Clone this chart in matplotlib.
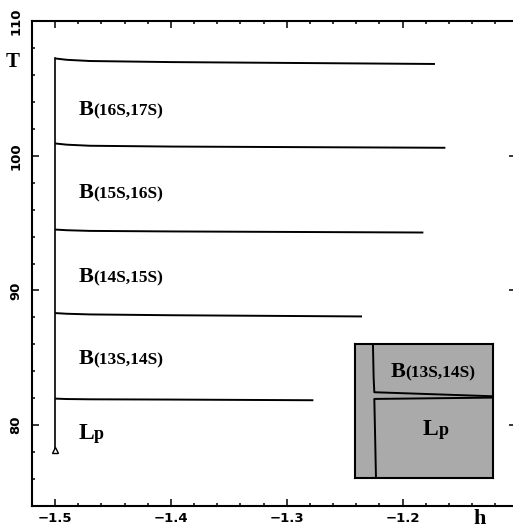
import matplotlib
matplotlib.use("Agg")
import matplotlib.pyplot as plt
from matplotlib.offsetbox import TextArea, HPacker, AnnotationBbox
from matplotlib.ticker import MultipleLocator

# Phase boundaries T(h): each boundary runs from the Lp/B spine at h = -1.5
boundary_h = [
    [-1.5, -1.49, -1.47, -1.40, -1.277],
    [-1.5, -1.49, -1.47, -1.40, -1.235],
    [-1.5, -1.49, -1.47, -1.40, -1.182],
    [-1.5, -1.49, -1.47, -1.40, -1.163],
    [-1.5, -1.49, -1.47, -1.40, -1.172],
]
boundary_T = [
    [81.97, 81.94, 81.92, 81.90, 81.85],
    [88.32, 88.27, 88.22, 88.16, 88.07],
    [94.52, 94.47, 94.42, 94.38, 94.30],
    [100.91, 100.82, 100.74, 100.68, 100.59],
    [107.22, 107.12, 107.03, 106.95, 106.81],
]
spine_h = [-1.5, -1.5]
spine_T = [78.15, 107.22]

# Region labels: (h, T, main letter, suffix)
regions = [
    (-1.48, 103.1, "B", "(16S,17S)"),
    (-1.48, 96.9, "B", "(15S,16S)"),
    (-1.48, 90.7, "B", "(14S,15S)"),
    (-1.48, 84.6, "B", "(13S,14S)"),
    (-1.48, 79.1, "L", "p"),
]

# Inset sketch (axes-fraction coordinates)
inset_upper_x = [0.13, 0.135, 0.14, 1.0]
inset_upper_y = [1.0, 0.75, 0.64, 0.61]
inset_lower_x = [0.152, 0.146, 0.14, 1.0]
inset_lower_y = [0.0, 0.30, 0.59, 0.60]

SERIF = "Liberation Serif"
SANS = "DejaVu Sans"

fig = plt.figure(figsize=(5.13, 5.30), dpi=100)
W, H = 513, 530
ax = fig.add_axes([32 / W, (H - 506) / H, (516 - 32) / W, (506 - 21) / H])

for hs, Ts in zip(boundary_h, boundary_T):
    ax.plot(hs, Ts, color="black", lw=1.4, solid_capstyle="butt",
            solid_joinstyle="round")
ax.plot(spine_h, spine_T, color="black", lw=1.2)
ax.plot(spine_h[:1], spine_T[:1], marker="^", ms=4, mfc="white",
        mec="black", mew=1.0, ls="none")

ax.set_xlim(-1.52, -1.102)
ax.set_ylim(74, 110)
ax.xaxis.set_major_locator(MultipleLocator(0.1))
ax.xaxis.set_minor_locator(MultipleLocator(0.02))
ax.yaxis.set_major_locator(MultipleLocator(10))
ax.yaxis.set_minor_locator(MultipleLocator(2))
ax.tick_params(which="both", direction="in", top=True, right=True, width=1.1)
ax.tick_params(which="major", length=5)
ax.tick_params(which="minor", length=2.5)
ax.tick_params(axis="x", pad=4.5, labelsize=9.5)
ax.tick_params(axis="y", pad=7, labelsize=9.5, labelrotation=90)
for lab in ax.get_xticklabels() + ax.get_yticklabels():
    lab.set_family(SANS)
    lab.set_fontweight("bold")
for lab in ax.get_yticklabels():
    lab.set_verticalalignment("center")
for sp in ax.spines.values():
    sp.set_linewidth(1.5)


def region_label(axis, x, y, main, suffix, coords="data", s_main=16, s_sub=12.5):
    a = TextArea(main, textprops=dict(fontsize=s_main, fontweight="bold", family=SERIF))
    b = TextArea(suffix, textprops=dict(fontsize=s_sub, fontweight="bold", family=SERIF))
    box = HPacker(children=[a, b], align="baseline", pad=0, sep=0)
    ab = AnnotationBbox(box, (x, y), xycoords=coords, box_alignment=(0, 0.3),
                        frameon=False, pad=0)
    axis.add_artist(ab)


for x, y, m, s in regions:
    sub = 13 if s == "p" else 12.5
    main = 17 if m == "L" else 16
    region_label(ax, x, y, m, s, s_main=main, s_sub=sub)

# Inset
ins = fig.add_axes([355 / W, (H - 478) / H, (493 - 355) / W, (478 - 344) / H])
ins.set_facecolor("#aaaaaa")
ins.plot(inset_upper_x, inset_upper_y, color="black", lw=1.4)
ins.plot(inset_lower_x, inset_lower_y, color="black", lw=1.4)
ins.set_xlim(0, 1)
ins.set_ylim(0, 1)
ins.set_xticks([])
ins.set_yticks([])
for sp in ins.spines.values():
    sp.set_linewidth(1.5)
region_label(ins, 0.255, 0.76, "B", "(13S,14S)", coords="axes fraction")
region_label(ins, 0.49, 0.33, "L", "p", coords="axes fraction", s_main=17, s_sub=13)

fig.text(13 / W, 1 - 62 / H, "T", fontsize=15, fontweight="bold", family=SERIF,
         ha="center", va="center")
fig.text(480 / W, 1 - 519 / H, "h", fontsize=16, fontweight="bold", family=SERIF,
         ha="center", va="center")

fig.savefig("out.png", dpi=100)
